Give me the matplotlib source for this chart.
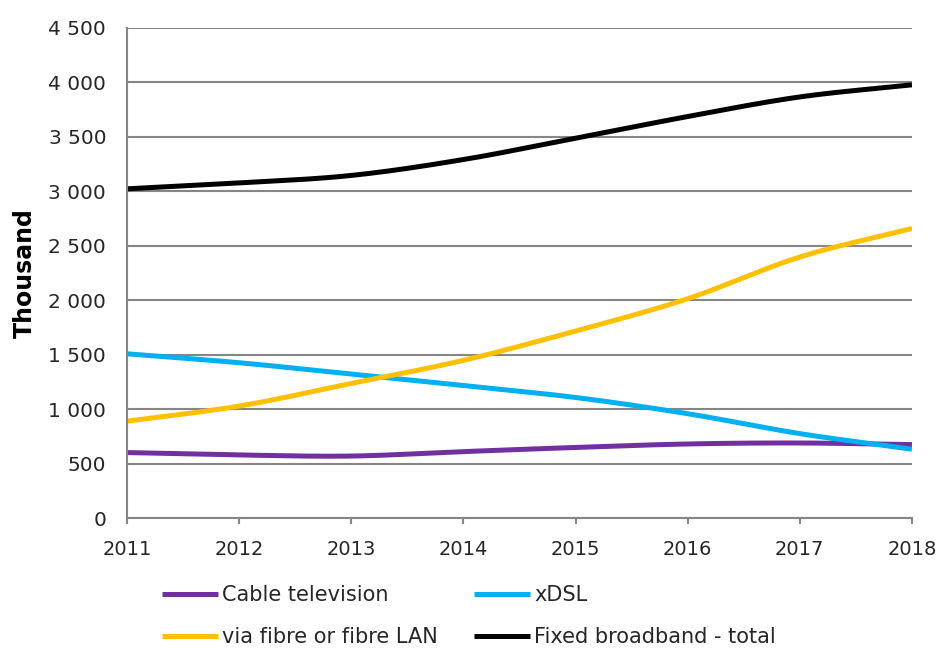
import numpy as np
import matplotlib.pyplot as plt

years = [2011, 2012, 2013, 2014, 2015, 2016, 2017, 2018]
cable_tv = [601, 579, 569, 610, 648, 680, 689, 674]
xdsl = [1508, 1426, 1322, 1217, 1107, 958, 775, 632]
fibre = [889, 1028, 1236, 1448, 1717, 2014, 2397, 2659]
total = [3023, 3077, 3146, 3292, 3488, 3687, 3867, 3978]

series = [
    ("Cable television", cable_tv, "#7030A0"),
    ("xDSL", xdsl, "#00B0F0"),
    ("via fibre or fibre LAN", fibre, "#FFC000"),
    ("Fixed broadband - total", total, "#000000"),
]


def smooth(x, y, n=30):
    # Catmull-Rom curve through the points, like a spreadsheet "smoothed line"
    x = np.asarray(x, float)
    y = np.asarray(y, float)
    px = np.concatenate([[2 * x[0] - x[1]], x, [2 * x[-1] - x[-2]]])
    py = np.concatenate([[2 * y[0] - y[1]], y, [2 * y[-1] - y[-2]]])
    xs, ys = [], []
    t = np.linspace(0, 1, n, endpoint=False)
    for i in range(1, len(px) - 2):
        for p, out in ((px, xs), (py, ys)):
            p0, p1, p2, p3 = p[i - 1], p[i], p[i + 1], p[i + 2]
            out.extend(0.5 * (2 * p1 + (-p0 + p2) * t
                              + (2 * p0 - 5 * p1 + 4 * p2 - p3) * t ** 2
                              + (-p0 + 3 * p1 - 3 * p2 + p3) * t ** 3))
    xs.append(x[-1])
    ys.append(y[-1])
    return np.array(xs), np.array(ys)


grey = "#868686"
text_col = "#262626"
fig = plt.figure(figsize=(9.42, 6.48), dpi=100)
ax = fig.add_axes([0.1348, 0.2006, 0.8333, 0.7562])

lines = {}
for label, vals, color in series:
    sx, sy = smooth(years, vals)
    lines[label], = ax.plot(sx, sy, color=color, lw=3.6, label=label,
                            solid_capstyle="butt")

ax.set_xlim(2011, 2018)
ax.set_ylim(0, 4500)
ax.set_yticks(range(0, 4501, 500))
ax.set_yticklabels([f"{v:,}".replace(",", " ") for v in range(0, 4501, 500)])
ax.set_xticks(years)

ax.yaxis.grid(True, color=grey, lw=1.5)
ax.set_axisbelow(True)
for side in ("top", "right"):
    ax.spines[side].set_visible(False)
for side in ("left", "bottom"):
    ax.spines[side].set_color(grey)
    ax.spines[side].set_linewidth(1.5)

ax.tick_params(axis="y", length=0, pad=15, labelsize=14.5, colors=text_col)
ax.tick_params(axis="x", length=4, width=1.5, color=grey, direction="out",
               pad=12, labelsize=14, labelcolor=text_col)
ax.set_ylabel("Thousand", fontsize=17, fontweight="bold", labelpad=8)

# legend reads row by row: matplotlib fills columns first, so reorder
order = ["Cable television", "via fibre or fibre LAN",
         "xDSL", "Fixed broadband - total"]
ax.legend([lines[k] for k in order], order,
          loc="upper left", bbox_to_anchor=(162 / 942, 0.097),
          bbox_transform=fig.transFigure, ncol=2, frameon=False,
          fontsize=15, handlelength=2.7, handletextpad=0.2,
          columnspacing=1.7, labelspacing=1.05, borderpad=0, borderaxespad=0,
          labelcolor=text_col)

fig.savefig("out.png", dpi=100)
